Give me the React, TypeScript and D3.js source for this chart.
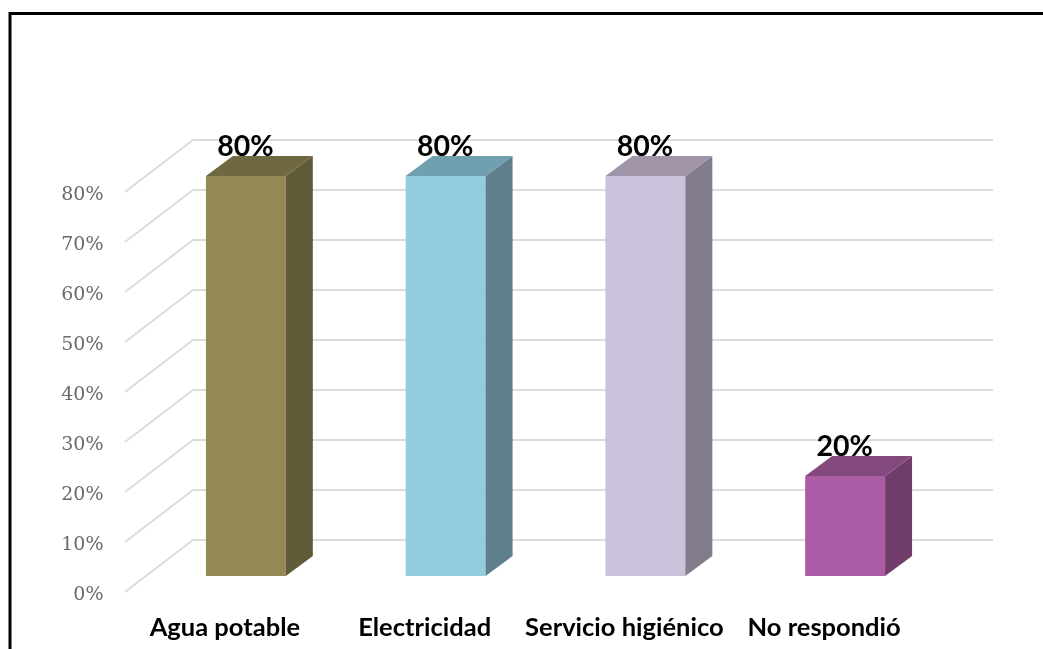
import React from "react";
import * as d3 from "d3";

const categories = ["Agua potable", "Electricidad", "Servicio higiénico", "No respondió"];
const values = [80, 80, 80, 20];
const ticks = [0, 10, 20, 30, 40, 50, 60, 70, 80];
const frontColors = ["#938953", "#93cddd", "#ccc1da", "#ab5ca4"];
const sideColors = ["#5f5a37", "#5e7f8d", "#837c8c", "#6f3d6b"];
const topColors = ["#6f6840", "#6f9fb0", "#9f94a8", "#834a7d"];

const W = 1043, H = 649;
const x = d3.scaleBand<string>().domain(categories).range([146, 945]).paddingInner(0.6).paddingOuter(0.3);
// y of the chart's back wall
const yBack = d3.scaleLinear().domain([0, 80]).range([540, 140]);
const wallDX = 68, wallDY = 52; // axis wall slant
const barFrontDY = 36, depthX = 27, depthY = 20;
const gridRight = 993, wallX = 193;

const poly = (p: [number, number][]) => d3.line()(p) + "Z";

export default function App() {
  return (
    <svg width={W} height={H} style={{ position: "absolute", left: 0, top: 0, background: "#fff" }}>
      <defs>
        <filter id="soft" x="-5%" y="-5%" width="110%" height="110%">
          <feGaussianBlur stdDeviation="0.45" />
        </filter>
      </defs>
      <g filter="url(#soft)">
        <path d="M10 649V13.5H1043" fill="none" stroke="#000" strokeWidth={3} />
        {ticks.map((t) => (
          <path
            key={t}
            d={`M${wallX - wallDX} ${yBack(t) + wallDY}L${wallX} ${yBack(t)}H${gridRight}`}
            fill="none"
            stroke="#dcdcdc"
            strokeWidth={2}
          />
        ))}
        {ticks.map((t) => (
          <text
            key={t}
            x={103.5}
            y={yBack(t) + wallDY + 7.5}
            textAnchor="end"
            fontFamily="'DejaVu Serif'"
            fontSize={19}
            fill="#6a6a6a"
          >
            {t}%
          </text>
        ))}
        {categories.map((c, i) => {
          const l = x(c)!;
          const r = l + x.bandwidth();
          const b = yBack(0) + barFrontDY;
          const t = yBack(values[i]) + barFrontDY;
          return (
            <g key={c}>
              <path d={poly([[l, b], [r, b], [r, t], [l, t]])} fill={frontColors[i]} />
              <path d={poly([[r, b], [r + depthX, b - depthY], [r + depthX, t - depthY], [r, t]])} fill={sideColors[i]} />
              <path d={poly([[l, t], [l + depthX, t - depthY], [r + depthX, t - depthY], [r, t]])} fill={topColors[i]} />
            </g>
          );
        })}
        {categories.map((c, i) => (
          <text
            key={c}
            x={x(c)! + x.bandwidth() / 2 - 0.5}
            y={yBack(values[i]) + barFrontDY - 20.5}
            textAnchor="middle"
            fontFamily="Lato"
            fontWeight={700}
            fontSize={28.5}
            fill="#000"
          >
            {values[i]}%
          </text>
        ))}
        {categories.map((c) => (
          <text
            key={c}
            x={x(c)! + x.bandwidth() / 2 - 21}
            y={635.5}
            textAnchor="middle"
            fontFamily="Lato"
            fontWeight={700}
            fontSize={25.5}
            fill="#000"
          >
            {c}
          </text>
        ))}
      </g>
    </svg>
  );
}
